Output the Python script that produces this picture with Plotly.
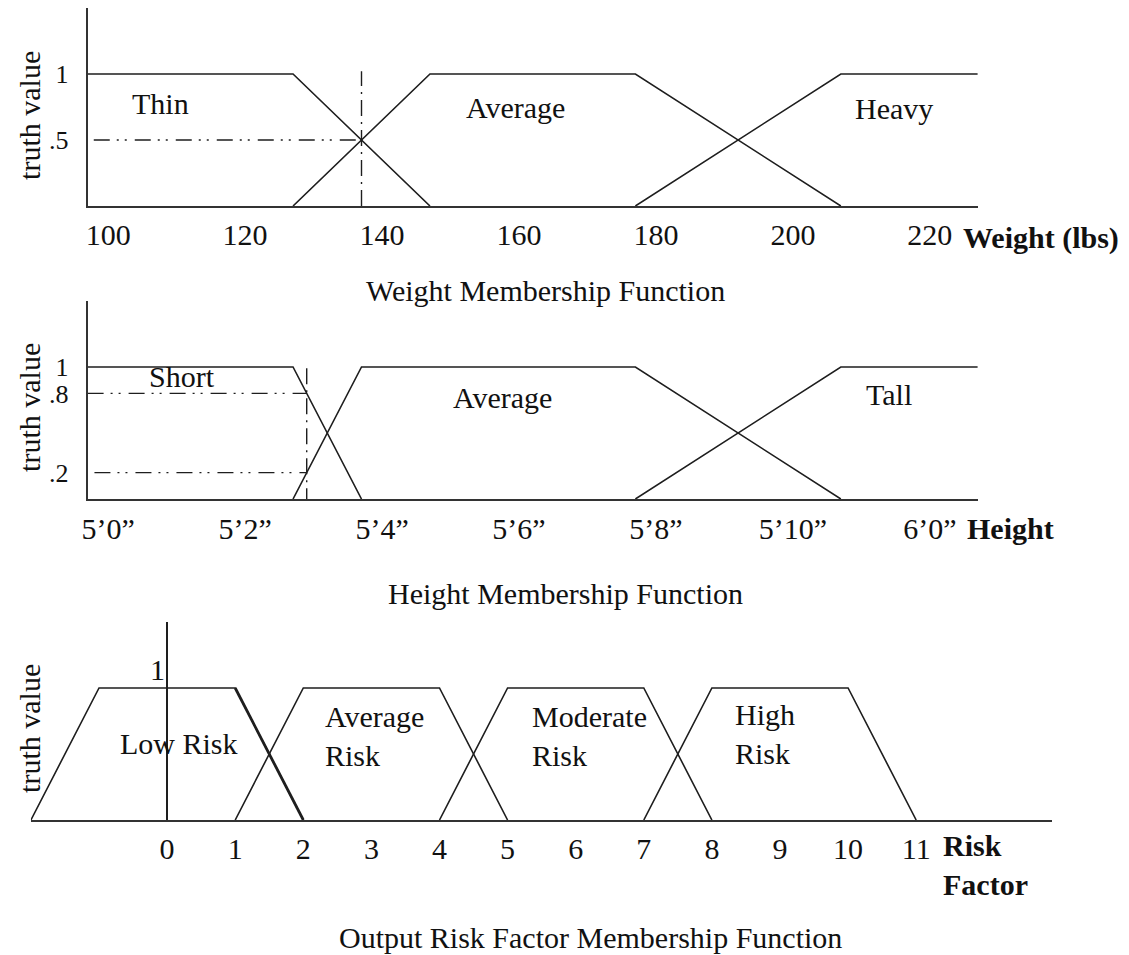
import plotly.graph_objects as go

W, H = 1129, 955
OFF = 8                      # browser body margin
FW, FH = W - 2 * OFF, H - OFF
FONT = "Liberation Serif"
FS = 30
INK = "#1e1e1e"

# ---------------- data ----------------
# Weight membership (lbs)
weight_ticks = [100, 120, 140, 160, 180, 200, 220]
weight_thin_x = [97, 127, 147]
weight_thin_y = [1, 1, 0]
weight_average_x = [127, 147, 177, 207]
weight_average_y = [0, 1, 1, 0]
weight_heavy_x = [177, 207, 227]
weight_heavy_y = [0, 1, 1]
weight_input = 137
weight_input_truth = 0.5
weight_range = [97, 227]

# Height membership (inches)
height_tick_vals = [60, 62, 64, 66, 68, 70, 72]
height_tick_text = ["5\u20190\u201d", "5\u20192\u201d", "5\u20194\u201d", "5\u20196\u201d",
                    "5\u20198\u201d", "5\u201910\u201d", "6\u20190\u201d"]
height_short_x = [59.7, 62.7, 63.7]
height_short_y = [1, 1, 0]
height_average_x = [62.7, 63.7, 67.7, 70.7]
height_average_y = [0, 1, 1, 0]
height_tall_x = [67.7, 70.7, 72.7]
height_tall_y = [0, 1, 1]
height_input = 62.9
height_short_truth = 0.8
height_average_truth = 0.2
height_range = [59.7, 72.7]

# Output risk factor membership
risk_ticks = [0, 1, 2, 3, 4, 5, 6, 7, 8, 9, 10, 11]
risk_low_x = [-2, -1, 1, 2]
risk_average_x = [1, 2, 4, 5]
risk_moderate_x = [4, 5, 7, 8]
risk_high_x = [7, 8, 10, 11]
risk_trap_y = [0, 1, 1, 0]
risk_range = [-2, 13]

truth_range = [0, 1.5]


# ---------------- helpers ----------------
def px(xp):
    return (xp - OFF) / FW


def py(yp):
    return 1 - (yp - OFF) / FH


fig = go.Figure()


def line(x, y, xa, ya, dash="solid", width=1.6):
    fig.add_trace(go.Scatter(x=x, y=y, xaxis=xa, yaxis=ya, mode="lines",
                             line=dict(color=INK, width=width, dash=dash),
                             hoverinfo="skip", showlegend=False))


DASH_H = "16px,7px,2px,6px,2px,8px"
DASH_V = "16px,6px,2px,6px"

# Weight chart
for xs, ys in [(weight_thin_x, weight_thin_y), (weight_average_x, weight_average_y),
               (weight_heavy_x, weight_heavy_y)]:
    line(xs, ys, "x", "y")
line([weight_range[0] + 0.9, weight_input], [weight_input_truth, weight_input_truth], "x", "y", DASH_H, 1.4)
line([weight_input, weight_input], [0, 1.02], "x", "y", DASH_V, 1.4)

# Height chart
for xs, ys in [(height_short_x, height_short_y), (height_average_x, height_average_y),
               (height_tall_x, height_tall_y)]:
    line(xs, ys, "x2", "y2")
line([height_range[0], height_input], [height_short_truth, height_short_truth], "x2", "y2", DASH_H, 1.4)
line([height_range[0] + 0.1, height_input], [height_average_truth, height_average_truth], "x2", "y2", DASH_H, 1.4)
line([height_input, height_input], [-0.04, 1.0], "x2", "y2", DASH_V, 1.4)

# Risk chart
for xs in [risk_low_x, risk_average_x, risk_moderate_x, risk_high_x]:
    line(xs, risk_trap_y, "x3", "y3")
line(risk_low_x[2:], risk_trap_y[2:], "x3", "y3", width=2.8)  # doubled edge in original

tickfont = dict(family=FONT, size=FS, color="#111")
ytickfont = dict(family=FONT, size=26, color="#111")


def xaxis(domain, rng, tickvals, ticktext, anchor, ticklen, zeroline=False):
    return dict(domain=domain, range=rng, anchor=anchor, showgrid=False,
                zeroline=zeroline, zerolinecolor=INK, zerolinewidth=1.6,
                showline=True, linecolor="#333", linewidth=2,
                ticks="outside", ticklen=ticklen, tickcolor="rgba(0,0,0,0)",
                tickvals=tickvals, ticktext=ticktext, tickfont=tickfont,
                fixedrange=True)


def yaxis(domain, anchor, tickvals, ticktext, showline=True):
    return dict(domain=domain, range=truth_range, anchor=anchor, showgrid=False,
                zeroline=False, showline=showline, linecolor="#333", linewidth=2,
                ticks="outside" if tickvals else "", ticklen=12,
                tickcolor="rgba(0,0,0,0)", tickvals=tickvals, ticktext=ticktext,
                showticklabels=bool(tickvals), tickfont=ytickfont, fixedrange=True)


fig.update_layout(
    width=FW, height=FH, margin=dict(l=0, r=0, t=0, b=0),
    paper_bgcolor="white", plot_bgcolor="white", showlegend=False,
    font=dict(family=FONT, size=FS, color="#111"),
    xaxis=xaxis([px(82), px(977)], weight_range, weight_ticks,
                [str(t) for t in weight_ticks], "y", 1),
    yaxis=yaxis([py(206), py(8)], "x", [1, 0.5], ["1", ".5"]),
    xaxis2=xaxis([px(82), px(977)], height_range, height_tick_vals,
                 height_tick_text, "y2", 2),
    yaxis2=yaxis([py(499), py(301)], "x2", [1, 0.8, 0.2], ["1", ".8", ".2"]),
    xaxis3=xaxis([px(25), px(1052)], risk_range, risk_ticks,
                 [str(t) for t in risk_ticks], "y3", 1, zeroline=True),
    yaxis3=yaxis([py(820), py(622)], "x3", None, None, showline=False),
)

ann = []


def text(t, x, y, xref, yref, xanchor="center", yanchor="middle", bold=False,
         angle=0, align="center"):
    ann.append(dict(text=f"<b>{t}</b>" if bold else t, x=x, y=y, xref=xref, yref=yref,
                    xanchor=xanchor, yanchor=yanchor, showarrow=False, textangle=angle,
                    align=align, font=dict(family=FONT, size=FS, color="#111")))


# set labels
text("Thin", 107.6, 0.78, "x", "y")
text("Average", 159.5, 0.75, "x", "y")
text("Heavy", 214.8, 0.74, "x", "y")
text("Short", 61.08, 0.93, "x2", "y2")
text("Average", 65.76, 0.77, "x2", "y2")
text("Tall", 71.41, 0.79, "x2", "y2")
text("Low Risk", 0.18, 0.58, "x3", "y3")
text("Average<br>Risk", 2.29, 0.64, "x3", "y3", xanchor="left", align="left")
text("Moderate<br>Risk", 5.33, 0.64, "x3", "y3", xanchor="left", align="left")
text("High<br>Risk", 8.31, 0.65, "x3", "y3", xanchor="left", align="left")
text("1", 0, 1, "x3", "y3", xanchor="right", yanchor="bottom")

# axis titles
for yc in [115, 407, 728]:
    text("truth value", px(23), py(yc), "paper", "paper", angle=-90)
text("Weight (lbs)", px(960), py(238), "paper", "paper", xanchor="left", bold=True)
text("Height", px(964), py(528), "paper", "paper", xanchor="left", bold=True)
text("Risk<br>Factor", px(940), py(865), "paper", "paper", xanchor="left", bold=True, align="left")

# captions
text("Weight Membership Function", px(542), py(290), "paper", "paper")
text("Height Membership Function", px(562), py(593), "paper", "paper")
text("Output Risk Factor Membership Function", px(588), py(937), "paper", "paper")

fig.update_layout(annotations=ann)
fig.write_html("out.html")
